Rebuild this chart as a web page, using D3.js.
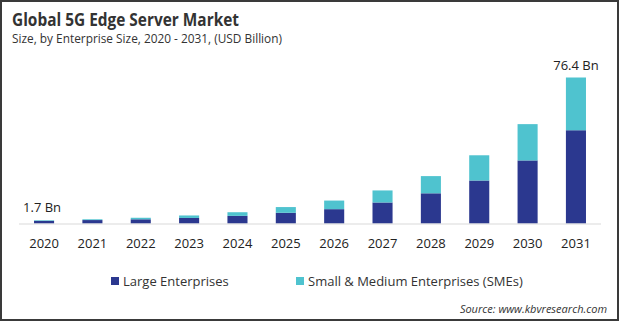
<!DOCTYPE html>
<html>
<head>
<meta charset="utf-8">
<script src="https://cdn.jsdelivr.net/npm/d3@7/dist/d3.min.js"></script>
<style>
  html, body { margin: 0; padding: 0; background: #fff; }
  svg { display: block; font-family: "Open Sans", "DejaVu Sans", sans-serif; }
</style>
</head>
<body>
<svg id="chart" width="620" height="322"></svg>
<script>
// Market size by enterprise size, USD billion
const years = ["2020","2021","2022","2023","2024","2025","2026","2027","2028","2029","2030","2031"];
const largeEnterprises = [1.4, 1.8, 2.2, 2.9, 4.0, 5.6, 7.5, 11.0, 15.8, 22.5, 33.0, 48.8];
const smes            = [0.3, 0.4, 0.8, 1.3, 1.9, 3.0, 4.5, 6.3, 9.0, 13.2, 19.0, 27.6];
const seriesNames = ["Large Enterprises", "Small & Medium Enterprises (SMEs)"];
const seriesColors = ["#2b388f", "#4fc3cf"];
const valueLabels = [{ year: "2020", text: "1.7 Bn" }, { year: "2031", text: "76.4 Bn" }];

const svg = d3.select("#chart");
const W = 620, H = 322;
const baseY = 223.5, topY = 77.5;

// frame
svg.append("rect").attr("x", 1).attr("y", 1).attr("width", 617).attr("height", 319)
  .attr("fill", "#fff").attr("stroke", "#3a3a3a").attr("stroke-width", 2);

// titles
svg.append("text").attr("x", 12).attr("y", 26)
  .attr("font-size", 17).attr("font-weight", 700).attr("fill", "#333")
  .attr("textLength", 227).attr("lengthAdjust", "spacingAndGlyphs")
  .text("Global 5G Edge Server Market");
svg.append("text").attr("x", 12).attr("y", 43)
  .attr("font-size", 12.5).attr("fill", "#333")
  .attr("textLength", 270).attr("lengthAdjust", "spacingAndGlyphs")
  .text("Size, by Enterprise Size, 2020 - 2031, (USD Billion)");

const rows = years.map((y, i) => ({ year: y, large: largeEnterprises[i], sme: smes[i] }));
const stack = d3.stack().keys(["large", "sme"])(rows);

const x = d3.scaleBand().domain(years).range([20, 600]).paddingInner(0.585).paddingOuter(0.29);
const totalMax = d3.max(rows, d => d.large + d.sme);
const y = d3.scaleLinear().domain([0, totalMax]).range([baseY, topY]);

// bars
svg.append("g").selectAll("g").data(stack).join("g")
  .attr("fill", (d, i) => seriesColors[i])
  .selectAll("rect").data(d => d).join("rect")
  .attr("x", d => x(d.data.year))
  .attr("width", x.bandwidth())
  .attr("y", d => y(d[1]))
  .attr("height", d => y(d[0]) - y(d[1]));

// baseline
svg.append("line").attr("x1", 19).attr("x2", 601).attr("y1", baseY + 0.5).attr("y2", baseY + 0.5)
  .attr("stroke", "#d9d9d9").attr("stroke-width", 1);

// year axis
const xAxis = d3.axisBottom(x).tickSize(0).tickPadding(0);
const gx = svg.append("g").attr("transform", `translate(0,${baseY})`).call(xAxis);
gx.select(".domain").remove();
gx.selectAll("text").attr("font-size", 13).attr("fill", "#222")
  .attr("font-family", "'Open Sans', sans-serif").attr("dy", "24");

// value labels
const totals = Object.fromEntries(rows.map(d => [d.year, d.large + d.sme]));
svg.append("g").selectAll("text").data(valueLabels).join("text")
  .attr("x", d => x(d.year) + x.bandwidth() / 2 - (d.year === "2020" ? 2 : 0))
  .attr("y", d => y(totals[d.year]) - 8)
  .attr("text-anchor", "middle").attr("font-size", 13).attr("fill", "#222")
  .text(d => d.text);

// legend
const legendX = [111, 296];
const lg = svg.append("g").selectAll("g").data(seriesNames).join("g")
  .attr("transform", (d, i) => `translate(${legendX[i]},277)`);
lg.append("rect").attr("width", 8).attr("height", 8).attr("fill", (d, i) => seriesColors[i]);
lg.append("text").attr("x", 12).attr("y", 8.5).attr("font-size", 13).attr("fill", "#333")
  .text(d => d);

// source
svg.append("text").attr("x", 607).attr("y", 313).attr("text-anchor", "end")
  .attr("font-size", 11).attr("font-style", "italic").attr("fill", "#333")
  .text("Source: www.kbvresearch.com");
</script>
</body>
</html>
